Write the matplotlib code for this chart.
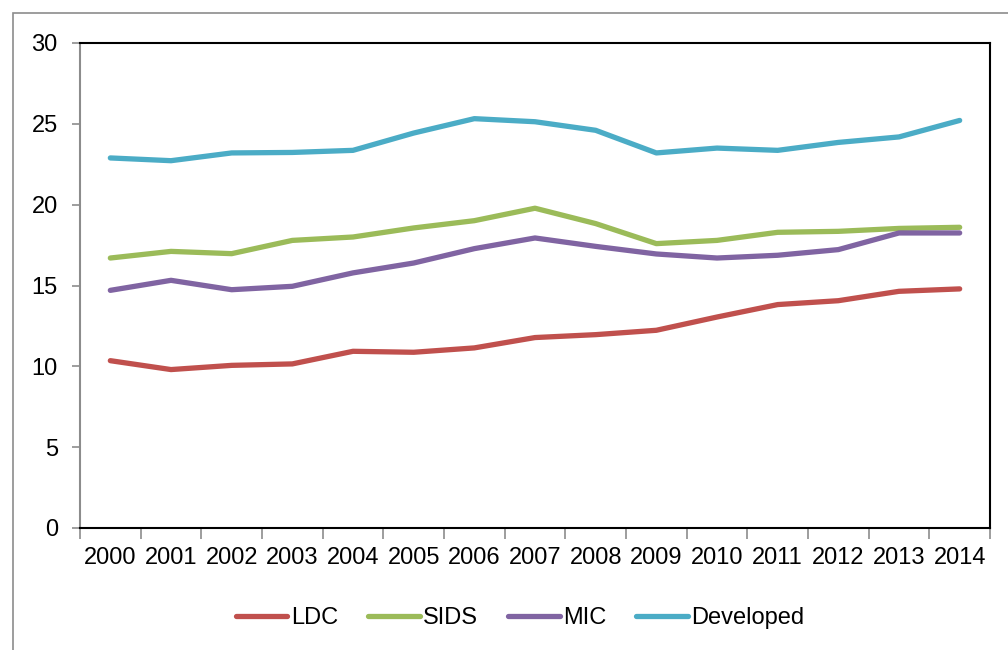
import matplotlib.pyplot as plt
from matplotlib.patches import Rectangle
from matplotlib.lines import Line2D

# Chart data
years = ["2000", "2001", "2002", "2003", "2004", "2005", "2006", "2007",
         "2008", "2009", "2010", "2011", "2012", "2013", "2014"]
ldc = [10.35, 9.8, 10.06, 10.15, 10.93, 10.87, 11.14, 11.78,
       11.96, 12.23, 13.05, 13.82, 14.06, 14.64, 14.79]
sids = [16.7, 17.11, 16.97, 17.79, 18.0, 18.56, 19.01, 19.78,
        18.83, 17.59, 17.79, 18.29, 18.35, 18.53, 18.6]
mic = [14.7, 15.32, 14.74, 14.95, 15.78, 16.39, 17.28, 17.94,
       17.42, 16.95, 16.7, 16.87, 17.22, 18.25, 18.25]
developed = [22.89, 22.72, 23.2, 23.23, 23.36, 24.43, 25.32, 25.13,
             24.6, 23.2, 23.5, 23.36, 23.85, 24.19, 25.21]

series_names = ["LDC", "SIDS", "MIC", "Developed"]
series_values = [ldc, sids, mic, developed]
series_colors = ["#C0504D", "#9BBB59", "#8064A2", "#4BACC6"]

plt.rcParams["font.family"] = ["Liberation Sans", "DejaVu Sans"]

fig = plt.figure(figsize=(10.08, 6.5), dpi=100)

# Gray outer chart frame (runs off the right and bottom edges)
fig.patches.append(Rectangle((13 / 1008, -0.1), 1.2, 1 - 13 / 650 + 0.1,
                             transform=fig.transFigure, fill=False,
                             edgecolor="#8c8c8c", linewidth=1.2))

ax = fig.add_axes([80 / 1008, 1 - 528 / 650, 910 / 1008, 485 / 650])

x = list(range(len(years)))
for name, vals, col in zip(series_names, series_values, series_colors):
    ax.plot(x, vals, color=col, linewidth=3.8, solid_capstyle="round", label=name)

ax.set_ylim(0, 30)
ax.set_yticks([0, 5, 10, 15, 20, 25, 30])
ax.set_xlim(-0.5, len(years) - 0.5)

# Category labels at centres, tick marks between categories
ax.set_xticks(x)
ax.set_xticklabels(years, fontsize=17)
ax.tick_params(axis="x", which="major", length=0, pad=14)
ax.set_xticks([i - 0.5 for i in range(len(years) + 1)], minor=True)
ax.tick_params(axis="x", which="minor", length=8, color="#8c8c8c", width=1.2)
ax.tick_params(axis="y", length=6, color="#8c8c8c", width=1.2, pad=10, labelsize=17)

for side in ["top", "right", "bottom"]:
    ax.spines[side].set_color("black")
    ax.spines[side].set_linewidth(1.5)
ax.spines["left"].set_color("#8c8c8c")
ax.spines["left"].set_linewidth(1.5)

handles = [Line2D([0], [0], color=c, linewidth=3.8, solid_capstyle="round")
           for c in series_colors]
fig.legend(handles, series_names, loc="center", bbox_to_anchor=(520 / 1008, 1 - 618 / 650),
           ncol=4, frameon=False, fontsize=17, handlelength=2.2,
           handletextpad=0.15, columnspacing=1.25)

fig.savefig("out.png", dpi=100)
